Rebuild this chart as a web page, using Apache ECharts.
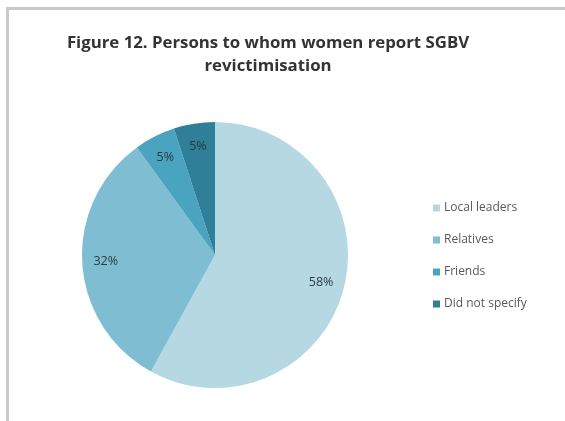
<!DOCTYPE html>
<html>
<head>
<meta charset="utf-8">
<script src="https://cdn.jsdelivr.net/npm/echarts@6/dist/echarts.min.js"></script>
<style>
  html, body { margin: 0; padding: 0; background: #fff; }
  #chart { width: 565px; height: 421px; }
</style>
</head>
<body>
<div id="chart"></div>
<script>
// Who women report SGBV revictimisation to (percent of respondents)
const categories = ['Local leaders', 'Relatives', 'Friends', 'Did not specify'];
const shares = [58, 32, 5, 5];
const sliceColors = ['#b5d8e3', '#7fbdd2', '#4aa3bf', '#2f7f98'];

const pieData = categories.map((name, i) => ({
  name: name,
  value: shares[i],
  itemStyle: { color: sliceColors[i] }
}));

const chart = echarts.init(document.getElementById('chart'));
chart.setOption({
  backgroundColor: '#ffffff',
  animation: false,
  title: {
    text: 'Figure 12. Persons to whom women report SGBV\nrevictimisation',
    left: 263,
    textAlign: 'center',
    top: 27,
    textStyle: {
      fontFamily: 'Open Sans',
      fontWeight: 'bold',
      fontSize: 16.8,
      color: '#333333',
      lineHeight: 23
    }
  },
  legend: {
    orient: 'vertical',
    left: 428,
    top: 197,
    itemWidth: 7,
    itemHeight: 7,
    itemGap: 20,
    icon: 'rect',
    data: categories,
    textStyle: { fontFamily: 'Open Sans', fontSize: 12, color: '#595959', padding: [0, 0, 0, -1] }
  },
  graphic: [
    { type: 'rect', shape: { x: 6, y: 7, width: 3, height: 420 }, style: { fill: '#c9c9c9' }, silent: true },
    { type: 'rect', shape: { x: 6, y: 7, width: 565, height: 3 }, style: { fill: '#c9c9c9' }, silent: true }
  ],
  series: [
    {
      type: 'pie',
      center: [215, 255],
      radius: 133,
      startAngle: 90,
      clockwise: true,
      silent: true,
      label: { show: false },
      labelLine: { show: false },
      itemStyle: { borderWidth: 0 },
      data: pieData
    },
    {
      // transparent ring that carries the percent labels at 80% of the radius
      type: 'pie',
      center: [215, 255],
      radius: [80, 133],
      startAngle: 90,
      clockwise: true,
      silent: true,
      itemStyle: { color: 'rgba(0,0,0,0)', borderWidth: 0 },
      label: {
        show: true,
        position: 'inside',
        formatter: '{c}%',
        fontFamily: 'Open Sans',
        fontSize: 12.5,
        color: '#2b3a40'
      },
      labelLine: { show: false },
      data: shares.map((v, i) => ({ name: categories[i], value: v }))
    }
  ]
});
</script>
</body>
</html>
